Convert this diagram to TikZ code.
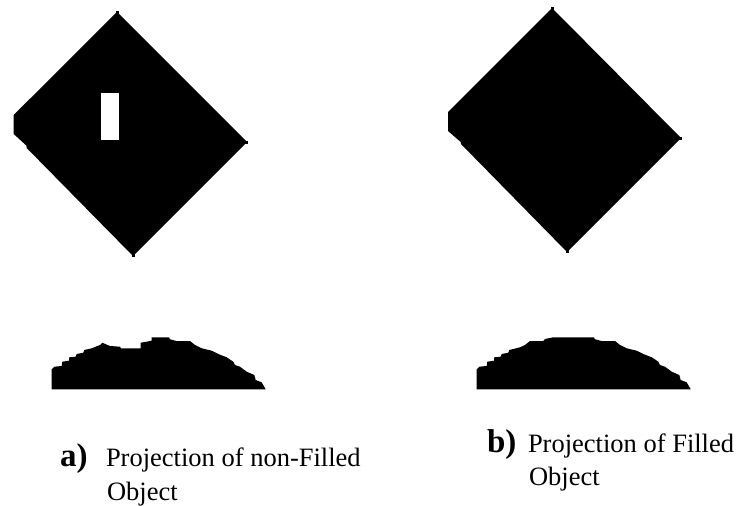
\documentclass[tikz,border=0pt]{standalone}
\usepackage{fontspec}
\setmainfont{Liberation Serif}
\tikzset{
  solid shape/.style={fill=black,draw=none},
  hole shape/.style={fill=white,draw=none},
  caption text/.style={anchor=base west,inner sep=0pt,outer sep=0pt,font=\fontsize{26.5}{30}\selectfont},
  tag text/.style={anchor=base west,inner sep=0pt,outer sep=0pt,font=\fontsize{33}{36}\selectfont\bfseries}
}
\begin{document}
\begin{tikzpicture}[x=1pt,y=-1pt]
\useasboundingbox (0,0) rectangle (747,506);
\fill[white] (0,0) rectangle (747,506);
% diamond a
\path[solid shape] (117,12) -- (247,142) -- (133,256) -- (26.7,148) -- (26.3,145.5) -- (13.7,134) -- (13.7,115) -- cycle;
\path[solid shape] (115.5,10.5) rectangle (118.5,14);
\path[solid shape] (244.5,140.5) rectangle (248,143.5);
\path[solid shape] (131.5,253) rectangle (134.5,257);
\path[hole shape] (101,93) rectangle (119,140);
% diamond b
\path[solid shape] (552,8) -- (681,138) -- (567,252) -- (461,144) -- (460.7,142) -- (448,131) -- (448,112) -- cycle;
\path[solid shape] (550.5,7) rectangle (553.5,10);
\path[solid shape] (678.5,136.5) rectangle (682,139.5);
\path[solid shape] (565.5,249) rectangle (568.5,253);
% projection a
\path[solid shape] (51.7,389.3) -- (51.7,369.3) -- (54.3,366.7) -- (61.7,366) -- (62.3,361.7) -- (69,360.7) -- (69.3,357.3) -- (75.7,356.7) -- (76.7,354) -- (83.3,352.7) -- (84.3,350) -- (91.7,348.3) -- (100,345) -- (102.3,342.7) -- (110,346) -- (120,346.7) -- (121,348.3) -- (140.7,348.3) -- (140.7,342.7) -- (145,342) -- (151.7,340.7) -- (151.7,337.3) -- (169,337.3) -- (170,339.3) -- (176.7,341) -- (190,341) -- (195,345) -- (201.7,348.3) -- (211.7,350.7) -- (218.3,354) -- (226.7,357.3) -- (233.3,361.7) -- (235,365) -- (240,366.7) -- (246.7,371.7) -- (254.3,375) -- (255.7,380) -- (261.7,382.3) -- (265.7,389.3) -- cycle;
% projection b
\path[solid shape] (476.7,389.3) -- (476.7,369.3) -- (479.3,366.7) -- (486.7,366) -- (487.3,361.7) -- (494,360.7) -- (494.3,357.3) -- (500.7,356.7) -- (501.7,354) -- (508.3,352.7) -- (509.3,350) -- (520,347.3) -- (525,345) -- (530,341) -- (543.3,341) -- (545,339) -- (553.3,337.3) -- (594,337.3) -- (595,339.3) -- (601.7,341) -- (615,341) -- (620,345) -- (626.7,348.3) -- (636.7,350.7) -- (643.3,354) -- (651.7,357.3) -- (658.3,361.7) -- (660,365) -- (665,366.7) -- (671.7,371.7) -- (679.3,375) -- (680.7,380) -- (686.7,382.3) -- (690.7,389.3) -- cycle;
% captions
\node[tag text] (taga) at (60,466) {a)};
\node[caption text] (capa1) at (106,466) {Projection of non-Filled};
\node[caption text] (capa2) at (107,500) {Object};
\node[tag text] (tagb) at (487,452) {b)};
\node[caption text] (capb1) at (528,452) {Projection of Filled};
\node[caption text] (capb2) at (529,485) {Object};
\end{tikzpicture}
\end{document}
